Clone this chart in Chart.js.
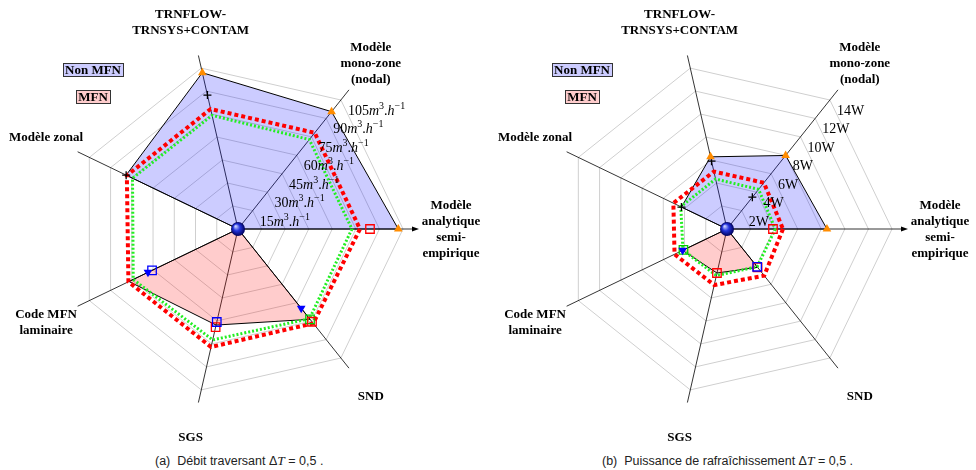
<!DOCTYPE html>
<html>
<head>
<meta charset="utf-8">
<script src="https://cdn.jsdelivr.net/npm/chart.js@4.4.0/dist/chart.umd.min.js"></script>
<style>
  body { margin: 0; background: #fff; width: 976px; height: 470px; position: relative; overflow: hidden; }
  canvas { position: absolute; top: 0; }
  .cap { position: absolute; top: 453px; font: 12.5px "Liberation Sans", Arial, sans-serif; color: #222; white-space: nowrap; }
  .cap i { font-family: "Liberation Serif", serif; font-size: 13.5px; }
</style>
</head>
<body>
<canvas id="radarA" width="488" height="448" style="left:0"></canvas>
<canvas id="radarB" width="487" height="448" style="left:489px"></canvas>
<div class="cap" style="left:155px">(a)&nbsp; Débit traversant Δ<i>T</i> = 0,5 .</div>
<div class="cap" style="left:602px">(b)&nbsp; Puissance de rafraîchissement Δ<i>T</i> = 0,5 .</div>
<script>
// axes, clockwise from the right
const categories = [
  ['Modèle', 'analytique', 'semi-', 'empirique'],
  ['SND'],
  ['SGS'],
  ['Code MFN', 'laminaire'],
  ['Modèle zonal'],
  ['TRNFLOW-', 'TRNSYS+CONTAM'],
  ['Modèle', 'mono-zone', '(nodal)']
];

// (a) débit traversant, m3/h
const ticksA = [15, 30, 45, 60, 75, 90, 105];
const nonMfnA = [102, 0, 0, 0, 79, 102, 95.5];
const mfnA = [0, 73.5, 62.7, 77, 0, 0, 0];
const redLineA = [77.6, 76.8, 77, 77.4, 78.5, 78.3, 78.3];
const greenLineA = [72.5, 73, 72.4, 74, 74.5, 74.2, 72.8];
const orangeA = [102, null, null, null, null, 102, 95.5];
const plusA = [null, null, null, null, 79, 87.4, null];
const redSqA = [84, 75.5, 64, null, null, null, null];
const blueSqA = [null, null, 60.7, 60.7, null, null, null];
const blueTriA = [null, 64.5, null, 63.6, null, null, null];
const greenSqA = [null, 73.5, null, null, null, null, null];

// (b) puissance de rafraîchissement, W
const ticksB = [2, 4, 6, 8, 10, 12, 14];
const nonMfnB = [8.48, 0, 0, 0, 4.29, 6.28, 7.98];
const mfnB = [0, 4.16, 3.83, 4.18, 0, 0, 0];
const redLineB = [4.75, 5.06, 4.88, 4.94, 5.05, 5.0, 5.02];
const greenLineB = [4.1, 4.1, 4.05, 4.15, 4.35, 4.35, 4.3];
const orangeB = [8.48, null, null, null, null, 6.28, 7.98];
const plusB = [null, null, null, null, 4.29, 5.9, 3.45];
const redSqB = [3.9, 4.16, 3.83, null, null, null, null];
const blueSqB = [null, 4.1, null, null, null, null, null];
const blueTriB = [null, null, null, 4.18, null, null, null];
const greenSqB = [null, null, null, 4.1, null, null, null];

const centerPt = [0, null, null, null, null, null, null];

function makeBall(r) {
  const c = document.createElement('canvas');
  c.width = c.height = 2 * r + 2;
  const g = c.getContext('2d');
  const grad = g.createRadialGradient(r * 0.65 + 1, r * 0.6 + 1, 0.5, r + 1, r + 1, r);
  grad.addColorStop(0, '#c8d0ff');
  grad.addColorStop(0.45, '#2233dd');
  grad.addColorStop(1, '#00005a');
  g.fillStyle = grad;
  g.beginPath();
  g.arc(r + 1, r + 1, r, 0, 2 * Math.PI);
  g.fill();
  return c;
}
const ball = makeBall(7);

const SERIF = '"Liberation Serif", "Times New Roman", serif';

function drawParts(ctx, x, y, parts) {
  parts.forEach(([txt, font, dy]) => {
    ctx.font = font;
    ctx.fillText(txt, x, y + dy);
    x += ctx.measureText(txt).width;
  });
}

function tag(ctx, text, cx, cy, fill) {
  ctx.font = 'bold 13px ' + SERIF;
  const w = ctx.measureText(text).width + 4;
  ctx.fillStyle = fill;
  ctx.fillRect(cx - w / 2, cy - 7, w, 14);
  ctx.strokeStyle = '#333';
  ctx.lineWidth = 1;
  ctx.strokeRect(Math.round(cx - w / 2) + 0.5, cy - 6.5, Math.round(w), 13);
  ctx.fillStyle = '#000';
  ctx.textAlign = 'center';
  ctx.textBaseline = 'middle';
  ctx.fillText(text, cx, cy + 1);
}

const decor = {
  id: 'decor',
  beforeDatasetsDraw(chart) {
    const s = chart.scales.r, ctx = chart.ctx;
    const n = chart.data.labels.length;
    const len = s.drawingArea + 13;
    ctx.save();
    ctx.strokeStyle = '#000';
    ctx.lineWidth = 0.8;
    for (let i = 0; i < n; i++) {
      const p = s.getPointPosition(i, len);
      ctx.beginPath();
      ctx.moveTo(s.xCenter, s.yCenter);
      ctx.lineTo(p.x, p.y);
      ctx.stroke();
    }
    const e = s.getPointPosition(0, len);
    ctx.fillStyle = '#000';
    ctx.beginPath();
    ctx.moveTo(e.x + 3, e.y);
    ctx.lineTo(e.x - 4, e.y - 2.5);
    ctx.lineTo(e.x - 4, e.y + 2.5);
    ctx.fill();
    ctx.restore();
  },
  afterDraw(chart, args, opts) {
    const s = chart.scales.r, ctx = chart.ctx;
    ctx.save();
    // axis names
    ctx.fillStyle = '#000';
    ctx.font = 'bold 13px ' + SERIF;
    ctx.textAlign = 'center';
    ctx.textBaseline = 'middle';
    chart.data.labels.forEach((lines, i) => {
      const p = s.getPointPosition(i, s.drawingArea * 213 / 165);
      const y0 = p.y - (lines.length - 1) * 8;
      lines.forEach((t, k) => ctx.fillText(t, p.x, y0 + k * 16 + 1));
    });
    // tick labels along the mono-zone axis
    ctx.textAlign = 'left';
    ctx.textBaseline = 'alphabetic';
    const up = '14px ' + SERIF, it = 'italic 14px ' + SERIF, sm = '10px ' + SERIF;
    opts.ticks.forEach(v => {
      const p = s.getPointPosition(6, s.getDistanceFromCenterForValue(v));
      const parts = opts.unit === 'W'
        ? [[v + 'W', up, 0]]
        : [[String(v), up, 0], ['m', it, 0], ['3', sm, -6], ['.', up, 0], ['h', it, 0], ['−1', sm, -6]];
      drawParts(ctx, p.x + 7, p.y + 15, parts);
    });
    // legend tags
    const ds = chart.data.datasets;
    const non = ds.find(d => d.label === 'Non MFN');
    const mfn = ds.find(d => d.label === 'MFN');
    tag(ctx, non.label, 93, 70, '#ccccff');
    tag(ctx, mfn.label, 93, 97, '#ffcccc');
    ctx.restore();
  }
};

function marker(label, data, style, color, filled, radius, rotation) {
  return {
    label, data,
    showLine: false, fill: false,
    borderColor: color,
    pointStyle: style,
    pointRadius: radius,
    pointRotation: rotation || 0,
    pointBackgroundColor: filled ? color : 'rgba(0,0,0,0)',
    pointBorderColor: color,
    pointBorderWidth: filled ? 0 : 1.3
  };
}

function makeChart(id, s, ticks, unit) {
  return new Chart(document.getElementById(id), {
    type: 'radar',
    data: {
      labels: categories,
      datasets: [
        { label: 'centre', data: centerPt, showLine: false, fill: false, pointStyle: ball, pointRadius: 7 },
        marker('orange', s.orange, 'triangle', '#ff8c00', true, 5),
        marker('plus', s.plus, 'cross', '#000', false, 4),
        marker('blueTri', s.blueTri, 'triangle', '#0000ff', true, 5, 180),
        marker('blueSq', s.blueSq, 'rect', '#0000ff', false, 6),
        marker('redSq', s.redSq, 'rect', '#ff0000', false, 6),
        marker('greenSq', s.greenSq, 'rect', '#00cc00', false, 6),
        { label: 'red', data: s.red, fill: false, borderColor: '#ff0000', borderWidth: 4,
          borderDash: [4, 3], pointRadius: 0 },
        { label: 'green', data: s.green, fill: false, borderColor: '#22ee22', borderWidth: 3,
          borderDash: [2, 2], pointRadius: 0 },
        { label: 'MFN', data: s.mfn, fill: true, backgroundColor: 'rgba(255,0,0,0.2)',
          borderColor: '#000', borderWidth: 1, pointRadius: 0 },
        { label: 'Non MFN', data: s.non, fill: true, backgroundColor: 'rgba(0,0,255,0.2)',
          borderColor: '#000', borderWidth: 1, pointRadius: 0 }
      ]
    },
    options: {
      responsive: false,
      animation: false,
      layout: { padding: { left: 73, right: 85 - (id === 'radarB' ? 1 : 0), top: 64, bottom: 54 } },
      elements: { line: { tension: 0 } },
      plugins: {
        legend: { display: false },
        tooltip: { enabled: false },
        decor: { ticks, unit }
      },
      scales: {
        r: {
          min: 0,
          max: ticks[ticks.length - 1],
          startAngle: 90,
          ticks: { display: false, stepSize: ticks[1] - ticks[0] },
          pointLabels: { display: false },
          angleLines: { display: false },
          grid: { color: '#cfcfcf', lineWidth: 1 }
        }
      }
    },
    plugins: [decor]
  });
}

makeChart('radarA', {
  non: nonMfnA, mfn: mfnA, red: redLineA, green: greenLineA, orange: orangeA, plus: plusA,
  redSq: redSqA, blueSq: blueSqA, blueTri: blueTriA, greenSq: greenSqA
}, ticksA, 'm3');

makeChart('radarB', {
  non: nonMfnB, mfn: mfnB, red: redLineB, green: greenLineB, orange: orangeB, plus: plusB,
  redSq: redSqB, blueSq: blueSqB, blueTri: blueTriB, greenSq: greenSqB
}, ticksB, 'W');
</script>
</body>
</html>
